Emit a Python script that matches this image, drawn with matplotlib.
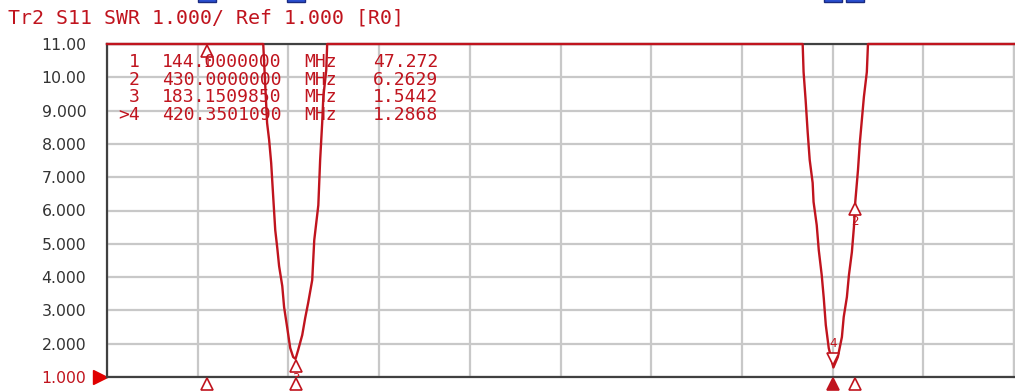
import numpy as np
import matplotlib
matplotlib.use('Agg')
import matplotlib.pyplot as plt
from matplotlib.transforms import offset_copy, blended_transform_factory

# trace (values above 11 are off-scale, estimated)
freq_mhz = [100.0, 144.0, 160.0, 168.9, 170.6, 171.5, 172.4, 173.3, 174.2, 175.1,
            175.9, 177.3, 178.1, 179.5, 180.8, 182.1, 183.15, 184.3, 186.1, 187.4,
            188.7, 190.5, 191.4, 193.2, 194.0, 194.9, 195.4, 196.7, 197.1, 210.0,
            300.0, 390.0, 406.8, 407.2, 408.1, 409.0, 409.9, 411.2, 411.6, 413.0,
            413.9, 415.2, 416.1, 417.0, 418.3, 420.35, 422.3, 424.1, 424.9, 426.3,
            427.2, 428.5, 429.4, 430.0, 431.2, 432.0, 432.9, 433.8, 435.1, 435.6,
            450.0, 500.0]
swr = [60.0, 47.272, 25.0, 11.0, 8.63, 8.12, 7.43, 6.41, 5.41, 4.87,
       4.33, 3.73, 3.10, 2.47, 1.87, 1.60, 1.5442, 1.81, 2.26, 2.77,
       3.22, 3.91, 5.11, 6.16, 7.52, 8.63, 9.41, 10.22, 11.0, 20.0,
       45.0, 25.0, 11.0, 10.16, 9.32, 8.36, 7.52, 6.83, 6.26, 5.56,
       4.81, 4.06, 3.37, 2.56, 1.87, 1.2868, 1.60, 2.20, 2.80, 3.40,
       4.06, 4.75, 5.50, 6.2629, 7.22, 8.03, 8.72, 9.41, 10.16, 11.0,
       30.0, 60.0]

marker_ids = ['1', '2', '3', '4']
marker_freq = [144.0, 430.0, 183.1509850, 420.3501090]
marker_swr = [47.272, 6.2629, 1.5442, 1.2868]
marker_freq_txt = ['144.0000000', '430.0000000', '183.1509850', '420.3501090']
marker_swr_txt = ['47.272', '6.2629', '1.5442', '1.2868']
active = 3

y_ticks = [1, 2, 3, 4, 5, 6, 7, 8, 9, 10, 11]
y_labels = ['1.000', '2.000', '3.000', '4.000', '5.000', '6.000',
            '7.000', '8.000', '9.000', '10.00', '11.00']
f_start, f_stop, f_div = 100, 500, 40
top = 11

red = '#c0141e'
frame = '#404040'
grid = '#c8c8c8'

fig = plt.figure(figsize=(10.15, 3.91), dpi=100)
ax = fig.add_axes([107/1015, 14/391, 907/1015, 333/391])
ax.set_xlim(f_start, f_stop)
ax.set_ylim(1, top)

ax.set_xticks(np.arange(f_start, f_stop + 1, f_div))
ax.set_yticks(y_ticks)
ax.set_yticklabels(y_labels)
ax.tick_params(axis='x', length=0, labelbottom=False)
ax.tick_params(axis='y', length=0, pad=15, labelsize=11.3, labelcolor='#333333')
ax.get_yticklabels()[0].set_color(red)
ax.grid(True, color=grid, lw=1.6)
ax.set_axisbelow(True)
for s in ['left', 'bottom', 'top']:
    ax.spines[s].set_color(frame)
    ax.spines[s].set_linewidth(1.6)
ax.spines['right'].set_color(grid)
ax.spines['right'].set_linewidth(1.6)

ax.plot(freq_mhz, np.minimum(swr, top), color=red, lw=1.7, clip_on=False, zorder=5)

# markers on the trace
for i, (mid, f, v) in enumerate(zip(marker_ids, marker_freq, marker_swr)):
    v = min(v, top)
    if i == active:
        tr = offset_copy(ax.transData, fig=fig, x=0, y=6, units='points')
        ax.plot(f, v, marker='v', ms=9, mfc='white', mec=red, mew=1.2,
                transform=tr, zorder=6)
        tr2 = offset_copy(ax.transData, fig=fig, x=0, y=17, units='points')
        ax.text(f, v, mid, color=red, fontsize=9, ha='center', va='center',
                family='DejaVu Sans Mono', transform=tr2, zorder=6)
    else:
        tr = offset_copy(ax.transData, fig=fig, x=0, y=-5, units='points')
        ax.plot(f, v, marker='^', ms=9, mfc='white', mec=red, mew=1.2,
                transform=tr, zorder=6)
        tr2 = offset_copy(ax.transData, fig=fig, x=0, y=-14, units='points')
        ax.text(f, v, mid, color=red, fontsize=9, ha='center', va='center',
                family='DejaVu Sans Mono', transform=tr2, zorder=6, clip_on=True)

# stimulus indicators under the axis
xt = ax.get_xaxis_transform()
for i, f in enumerate(marker_freq):
    ax.plot(f, -0.021, marker='^', ms=9, mfc=red if i == active else 'white',
            mec=red, mew=1.2, transform=xt, clip_on=False, zorder=6)

# marker flags at the very top
flag_tr = blended_transform_factory(ax.transData, fig.transFigure)
for f in marker_freq:
    ax.plot(f, 1.018, marker='s', ms=13, mfc='#2a4fd0', mec='#1a2a80', mew=1,
            transform=flag_tr, clip_on=False)

# reference level arrow
ax.plot(-0.008, 1, marker='>', ms=10, color='#e00000', transform=ax.get_yaxis_transform(),
        clip_on=False)

fig.text(8/1015, 1 - 18/391, 'Tr2 S11 SWR 1.000/ Ref 1.000 [R0]', color=red,
         family='DejaVu Sans Mono', fontsize=14.3, va='center', ha='left')

# marker table
for i in range(len(marker_ids)):
    y = 1 - (62 + i * 17.7) / 391
    lab = ('>' if i == active else '') + marker_ids[i]
    kw = dict(color=red, family='DejaVu Sans Mono', fontsize=13, va='center', zorder=7)
    fig.text(140/1015, y, lab, ha='right', **kw)
    fig.text(162/1015, y, marker_freq_txt[i], ha='left', **kw)
    fig.text(304/1015, y, 'MHz', ha='left', **kw)
    fig.text(438/1015, y, marker_swr_txt[i], ha='right', **kw)

fig.savefig('out.png', dpi=100)
